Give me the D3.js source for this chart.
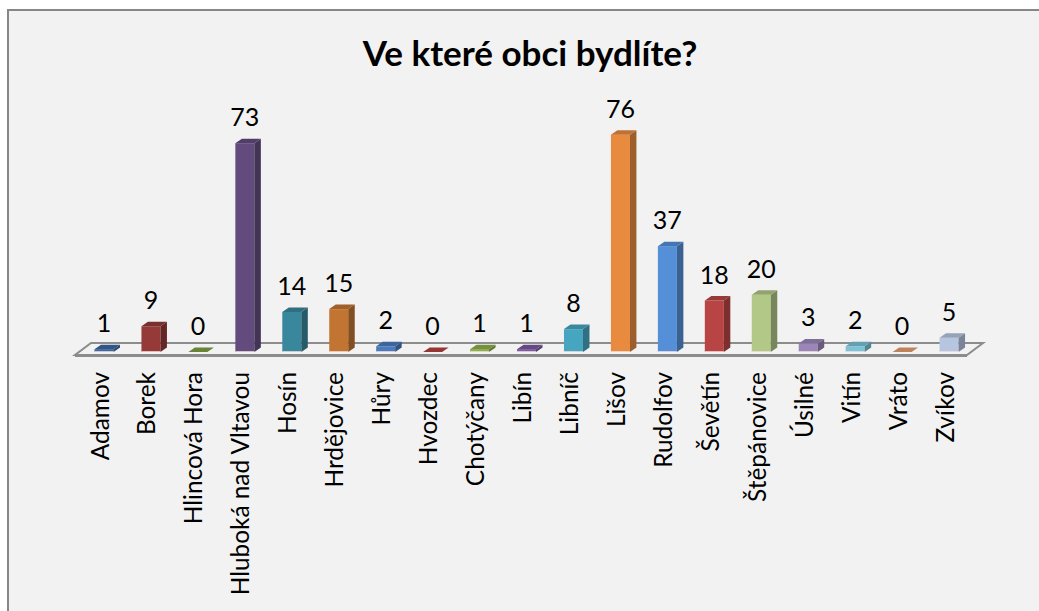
<!DOCTYPE html>
<html>
<head>
<meta charset="utf-8">
<script src="https://cdn.jsdelivr.net/npm/d3@7/dist/d3.min.js"></script>
<style>
  body { margin: 0; background: #fff; }
  text { font-family: Lato, "Open Sans", sans-serif; fill: #000; }
</style>
</head>
<body>
<div id="chart"></div>
<script>
var categories = ['Adamov', 'Borek', 'Hlincová Hora', 'Hluboká nad Vltavou', 'Hosín', 'Hrdějovice',
  'Hůry', 'Hvozdec', 'Chotýčany', 'Libín', 'Libníč', 'Lišov', 'Rudolfov', 'Ševětín',
  'Štěpánovice', 'Úsilné', 'Vitín', 'Vráto', 'Zvíkov'];
var counts = [1, 9, 0, 73, 14, 15, 2, 0, 1, 1, 8, 76, 37, 18, 20, 3, 2, 0, 5];
var title = 'Ve které obci bydlíte?';

// vary colours by point, like the office palette
var colors = ['#3a68a3', '#953a38', '#80a043', '#634b7e', '#39879c', '#c27533',
  '#4a7bbe', '#b5413f', '#8db04a', '#7a5aa2', '#47a6bf', '#e98b3f',
  '#558fd8', '#b84543', '#b1c886', '#9b86b8', '#7bc3d8', '#e8a070', '#b6c5e0'];

var svgWidth = 1039;
var svgHeight = 611;

var floorFront = 355;   // front edge of the floor
var floorDx = 16, floorDy = -12;
var barBase = 352;      // bottom of the bars' front face
var barDx = 6.5, barDy = -4.5;
var barWidth = 19;

var svg = d3.select('#chart')
  .append('svg')
  .attr('width', svgWidth)
  .attr('height', svgHeight);

// chart area
svg.append('rect')
  .attr('x', 8).attr('y', 10)
  .attr('width', svgWidth + 20).attr('height', svgHeight + 20)
  .attr('fill', '#f2f2f2')
  .attr('stroke', '#878787')
  .attr('stroke-width', 2);

svg.append('text')
  .attr('x', 530)
  .attr('y', 66)
  .attr('text-anchor', 'middle')
  .style('font-size', '35px')
  .style('font-weight', 'bold')
  .text(title);

var x = d3.scaleBand()
  .domain(categories)
  .range([75, 967]);

var y = d3.scaleLinear()
  .domain([0, 80])
  .range([barBase, barBase - 80 * 2.86]);

// floor
var x0 = x.range()[0], x1 = x.range()[1];
svg.append('path')
  .attr('d', 'M' + x0 + ',' + floorFront + 'L' + x1 + ',' + floorFront +
    'L' + (x1 + floorDx) + ',' + (floorFront + floorDy) +
    'L' + (x0 + floorDx) + ',' + (floorFront + floorDy) + 'Z')
  .attr('fill', '#f2f2f2')
  .attr('stroke', '#8c8c8c')
  .attr('stroke-width', 2);
svg.append('line')
  .attr('x1', x0).attr('x2', x1)
  .attr('y1', floorFront + 0.5).attr('y2', floorFront + 0.5)
  .attr('stroke', '#8c8c8c')
  .attr('stroke-width', 3);

var bars = svg.selectAll('.bar')
  .data(categories)
  .enter()
  .append('g')
  .attr('class', 'bar');

function barLeft(d) { return x(d) + 19.5; }
function barTop(i) { return y(counts[i]); }

// front face
bars.append('rect')
  .attr('x', barLeft)
  .attr('y', function(d, i) { return barTop(i); })
  .attr('width', barWidth)
  .attr('height', function(d, i) { return barBase - barTop(i); })
  .attr('fill', function(d, i) { return colors[i]; });

// side face
bars.append('path')
  .attr('d', function(d, i) {
    var r = barLeft(d) + barWidth, t = barTop(i);
    return 'M' + r + ',' + t + 'L' + (r + barDx) + ',' + (t + barDy) +
      'L' + (r + barDx) + ',' + (barBase + barDy) + 'L' + r + ',' + barBase + 'Z';
  })
  .attr('fill', function(d, i) { return d3.color(colors[i]).darker(1.1); });

// top face
bars.append('path')
  .attr('d', function(d, i) {
    var l = barLeft(d), t = barTop(i);
    return 'M' + l + ',' + t + 'L' + (l + barWidth) + ',' + t +
      'L' + (l + barWidth + barDx) + ',' + (t + barDy) + 'L' + (l + barDx) + ',' + (t + barDy) + 'Z';
  })
  .attr('fill', function(d, i) { return d3.color(colors[i]).darker(0.55); });

// light rim at the foot of the bar
bars.append('rect')
  .attr('x', barLeft)
  .attr('y', barBase - 1)
  .attr('width', barWidth)
  .attr('height', function(d, i) { return counts[i] > 0 ? 1 : 0; })
  .attr('fill', '#f6dede')
  .attr('opacity', 0.8);

// value labels
bars.append('text')
  .attr('x', function(d) { return barLeft(d) + barWidth / 2; })
  .attr('y', function(d, i) { return barTop(i) - 17; })
  .attr('text-anchor', 'middle')
  .style('font-size', '25px')
  .text(function(d, i) { return counts[i]; });

// category labels
svg.selectAll('.cat')
  .data(categories)
  .enter()
  .append('text')
  .attr('class', 'cat')
  .attr('transform', function(d) {
    return 'translate(' + (x(d) + 25) + ',372) rotate(-90)';
  })
  .attr('dy', '0.35em')
  .attr('text-anchor', 'end')
  .style('font-size', '24.4px')
  .text(function(d) { return d; });
</script>
</body>
</html>
